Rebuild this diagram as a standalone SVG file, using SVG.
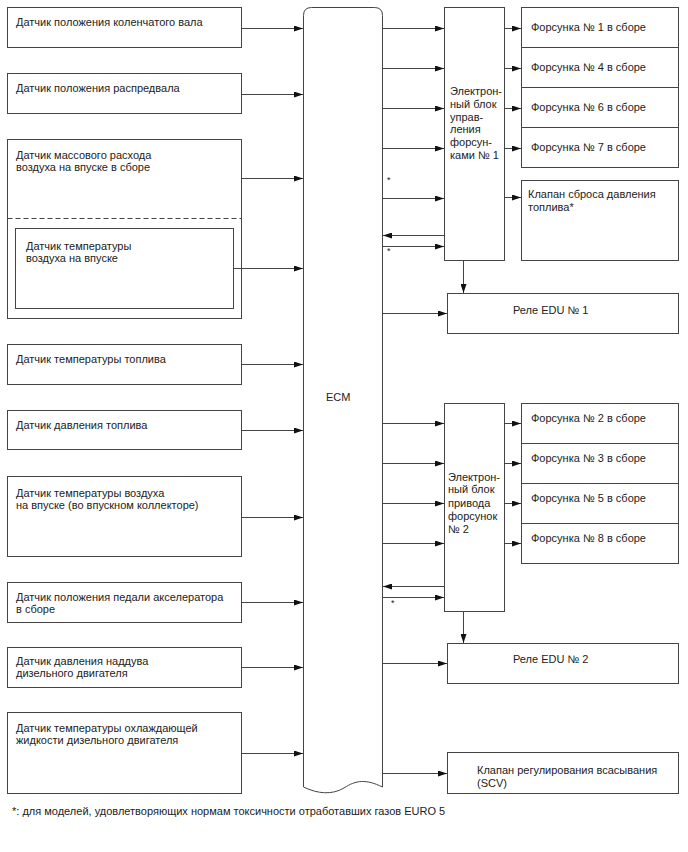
<svg xmlns="http://www.w3.org/2000/svg" width="688" height="852" viewBox="0 0 688 852">
<style>
.b{fill:#fff;stroke:#444;stroke-width:1}
.t{font-family:"Liberation Sans",Arial,sans-serif;font-size:11px;fill:#222}
.c{stroke:#444;stroke-width:1;fill:none;marker-end:url(#ah)}
.s{font-family:"Liberation Sans",Arial,sans-serif;font-size:9px;fill:#222}
</style>
<defs>
<marker id="ah" markerUnits="userSpaceOnUse" markerWidth="10" markerHeight="6" refX="9" refY="3" orient="auto">
<path d="M0,0 L9,3 L0,6 z" fill="#111"/>
</marker>
</defs>
<rect width="688" height="852" fill="#fff"/>

<g id="s1"><rect class="b" x="7.5" y="7.5" width="234" height="40"/><text class="t" x="16" y="26">Датчик положения коленчатого вала</text></g>
<g id="s2"><rect class="b" x="7.5" y="73.5" width="234" height="40"/><text class="t" x="16" y="92">Датчик положения распредвала</text></g>
<g id="s3"><rect class="b" x="7.5" y="139.5" width="234" height="179"/><text class="t" x="16" y="159">Датчик массового расхода</text><text class="t" x="16" y="171">воздуха на впуске в сборе</text>
<line x1="7.5" y1="218.5" x2="241.5" y2="218.5" stroke="#444" stroke-dasharray="5,3"/></g>
<g id="s3a"><rect class="b" x="15.5" y="228.5" width="218" height="80"/><text class="t" x="26" y="250">Датчик температуры</text><text class="t" x="26" y="262">воздуха на впуске</text></g>
<g id="s4"><rect class="b" x="7.5" y="344.5" width="234" height="40"/><text class="t" x="16" y="363">Датчик температуры топлива</text></g>
<g id="s5"><rect class="b" x="7.5" y="410.5" width="234" height="39"/><text class="t" x="16" y="429">Датчик давления топлива</text></g>
<g id="s6"><rect class="b" x="7.5" y="476.5" width="234" height="80"/><text class="t" x="16" y="497">Датчик температуры воздуха</text><text class="t" x="16" y="509">на впуске (во впускном коллекторе)</text></g>
<g id="s7"><rect class="b" x="7.5" y="582.5" width="234" height="40"/><text class="t" x="16" y="601">Датчик положения педали акселератора</text><text class="t" x="16" y="613">в сборе</text></g>
<g id="s8"><rect class="b" x="7.5" y="647.5" width="234" height="40"/><text class="t" x="16" y="665">Датчик давления наддува</text><text class="t" x="16" y="677">дизельного двигателя</text></g>
<g id="s9"><rect class="b" x="7.5" y="712.5" width="234" height="81"/><text class="t" x="16" y="732">Датчик температуры охлаждающей</text><text class="t" x="16" y="744">жидкости дизельного двигателя</text></g>

<g id="ecm"><path class="b" d="M303.5,787 L303.5,15.5 Q303.5,7.5 311.5,7.5 L374.5,7.5 Q382.5,7.5 382.5,15.5 L382.5,787 C366,779 356,780 344,788 C332,795 318,794 303.5,787 z"/><text class="t" x="326" y="401">ECM</text></g>

<g id="edu1"><rect class="b" x="444.5" y="7.5" width="60" height="253"/>
<text class="t" x="450"><tspan x="450" y="95">Электрон-</tspan><tspan x="450" y="108">ный блок</tspan><tspan x="450" y="121">управ-</tspan><tspan x="450" y="133">ления</tspan><tspan x="450" y="146">форсун-</tspan><tspan x="450" y="159">ками № 1</tspan></text></g>
<g id="inj1"><rect class="b" x="521.5" y="7.5" width="157" height="40"/><text class="t" x="531" y="31">Форсунка № 1 в сборе</text></g>
<g id="inj4"><rect class="b" x="521.5" y="47.5" width="157" height="40"/><text class="t" x="531" y="71">Форсунка № 4 в сборе</text></g>
<g id="inj6"><rect class="b" x="521.5" y="87.5" width="157" height="40"/><text class="t" x="531" y="111">Форсунка № 6 в сборе</text></g>
<g id="inj7"><rect class="b" x="521.5" y="127.5" width="157" height="40"/><text class="t" x="531" y="151">Форсунка № 7 в сборе</text></g>
<g id="prv"><rect class="b" x="521.5" y="180.5" width="157" height="80"/><text class="t" x="528" y="198">Клапан сброса давления</text><text class="t" x="528" y="211">топлива*</text></g>
<g id="relay1"><rect class="b" x="447.5" y="293.5" width="231" height="40"/><text class="t" x="513" y="314">Реле EDU № 1</text></g>

<g id="edu2"><rect class="b" x="444.5" y="403.5" width="60" height="208"/>
<text class="t" x="448"><tspan x="448" y="481">Электрон-</tspan><tspan x="448" y="493">ный блок</tspan><tspan x="448" y="507">привода</tspan><tspan x="448" y="520">форсунок</tspan><tspan x="448" y="533">№ 2</tspan></text></g>
<g id="inj2"><rect class="b" x="521.5" y="403.5" width="157" height="40"/><text class="t" x="531" y="422">Форсунка № 2 в сборе</text></g>
<g id="inj3"><rect class="b" x="521.5" y="443.5" width="157" height="40"/><text class="t" x="531" y="462">Форсунка № 3 в сборе</text></g>
<g id="inj5"><rect class="b" x="521.5" y="483.5" width="157" height="40"/><text class="t" x="531" y="502">Форсунка № 5 в сборе</text></g>
<g id="inj8"><rect class="b" x="521.5" y="523.5" width="157" height="40"/><text class="t" x="531" y="542">Форсунка № 8 в сборе</text></g>
<g id="relay2"><rect class="b" x="447.5" y="643.5" width="231" height="40"/><text class="t" x="513" y="663">Реле EDU № 2</text></g>
<g id="scv"><rect class="b" x="447.5" y="752.5" width="231" height="41"/><text class="t" x="477" y="774">Клапан регулирования всасывания</text><text class="t" x="477" y="787">(SCV)</text></g>

<g id="connectors">
<line class="c" x1="241.5" y1="28.5" x2="303" y2="28.5"/>
<line class="c" x1="241.5" y1="94.5" x2="303" y2="94.5"/>
<line class="c" x1="241.5" y1="178.5" x2="303" y2="178.5"/>
<line class="c" x1="233.5" y1="268.5" x2="303" y2="268.5"/>
<line class="c" x1="241.5" y1="364.5" x2="303" y2="364.5"/>
<line class="c" x1="241.5" y1="430.5" x2="303" y2="430.5"/>
<line class="c" x1="241.5" y1="517.5" x2="303" y2="517.5"/>
<line class="c" x1="241.5" y1="602.5" x2="303" y2="602.5"/>
<line class="c" x1="241.5" y1="667.5" x2="303" y2="667.5"/>
<line class="c" x1="241.5" y1="753.5" x2="303" y2="753.5"/>

<line class="c" x1="382.5" y1="28.5" x2="444" y2="28.5"/>
<line class="c" x1="382.5" y1="68.5" x2="444" y2="68.5"/>
<line class="c" x1="382.5" y1="108.5" x2="444" y2="108.5"/>
<line class="c" x1="382.5" y1="148.5" x2="444" y2="148.5"/>
<line class="c" x1="382.5" y1="198.5" x2="444" y2="198.5"/>
<line class="c" x1="444.5" y1="235.5" x2="383" y2="235.5"/>
<line class="c" x1="382.5" y1="246.5" x2="444" y2="246.5"/>
<line class="c" x1="504.5" y1="28.5" x2="521" y2="28.5"/>
<line class="c" x1="504.5" y1="68.5" x2="521" y2="68.5"/>
<line class="c" x1="504.5" y1="108.5" x2="521" y2="108.5"/>
<line class="c" x1="504.5" y1="148.5" x2="521" y2="148.5"/>
<line class="c" x1="504.5" y1="197.5" x2="521" y2="197.5"/>
<line class="c" x1="463.5" y1="260.5" x2="463.5" y2="293"/>
<line class="c" x1="382.5" y1="313.5" x2="447" y2="313.5"/>

<line class="c" x1="382.5" y1="423.5" x2="444" y2="423.5"/>
<line class="c" x1="382.5" y1="463.5" x2="444" y2="463.5"/>
<line class="c" x1="382.5" y1="503.5" x2="444" y2="503.5"/>
<line class="c" x1="382.5" y1="543.5" x2="444" y2="543.5"/>
<line class="c" x1="444.5" y1="586.5" x2="383" y2="586.5"/>
<line class="c" x1="382.5" y1="597.5" x2="444" y2="597.5"/>
<line class="c" x1="504.5" y1="423.5" x2="521" y2="423.5"/>
<line class="c" x1="504.5" y1="463.5" x2="521" y2="463.5"/>
<line class="c" x1="504.5" y1="503.5" x2="521" y2="503.5"/>
<line class="c" x1="504.5" y1="543.5" x2="521" y2="543.5"/>
<line class="c" x1="463.5" y1="611.5" x2="463.5" y2="643"/>
<line class="c" x1="382.5" y1="663.5" x2="447" y2="663.5"/>
<line class="c" x1="382.5" y1="773.5" x2="447" y2="773.5"/>
</g>
<text class="s" x="387" y="183">*</text>
<text class="s" x="387" y="254">*</text>
<text class="s" x="391" y="606">*</text>
<text class="t" x="12" y="815">*: для моделей, удовлетворяющих нормам токсичности отработавших газов EURO 5</text>
</svg>
